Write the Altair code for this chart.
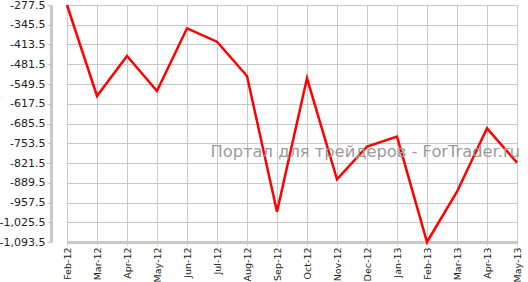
import altair as alt
import pandas as pd

months = ["Feb-12", "Mar-12", "Apr-12", "May-12", "Jun-12", "Jul-12", "Aug-12", "Sep-12",
          "Oct-12", "Nov-12", "Dec-12", "Jan-13", "Feb-13", "Mar-13", "Apr-13", "May-13"]
values = [-277.5, -590.8, -453.1, -573.6, -357.8, -403.8, -522.0, -989.1,
          -529.9, -877.7, -765.3, -730.9, -1093.5, -920.2, -702.1, -820.4]
y_ticks = [-277.5, -345.5, -413.5, -481.5, -549.5, -617.5, -685.5, -753.5,
           -821.5, -889.5, -957.5, -1025.5, -1093.5]
watermark = "Портал для трейдеров - ForTrader.ru"

df = pd.DataFrame({"month": months, "value": values})

W, H = 477, 237
grid = "#c8c8c8"

base = alt.Chart(df)

line = base.mark_line(color="#ff0000", strokeWidth=2.5, clip=False).encode(
    x=alt.X("month:O", sort=months,
            scale=alt.Scale(type="point", range=[16, 466], padding=0),
            axis=alt.Axis(title=None, labelAngle=270, labelFont="DejaVu Sans",
                          labelFontSize=9.5, labelColor="#222222",
                          domainColor=grid, domainWidth=3,
                          gridColor=grid, gridWidth=1, grid=True,
                          tickColor=grid, tickSize=3, labelPadding=2)),
    y=alt.Y("value:Q", scale=alt.Scale(domain=[-1093.5, -277.5], nice=False, zero=False),
            axis=alt.Axis(title=None, values=y_ticks,
                          labelExpr="replace(format(datum.value, ',.1f'), '\u2212', '-')",
                          labelFont="DejaVu Sans", labelFontSize=11, labelColor="#222222",
                          domainColor=grid, domainWidth=3,
                          gridColor=grid, gridWidth=1,
                          tickColor=grid, tickSize=4, labelPadding=2)),
)

wm = alt.Chart(pd.DataFrame({"t": [watermark]})).mark_text(
    font="DejaVu Sans", fontSize=16.3, color="#a09a9a", align="right", baseline="alphabetic"
).encode(text="t:N", x=alt.value(469), y=alt.value(152))

chart = alt.layer(line, wm).properties(
    width=W, height=H,
    autosize=alt.AutoSizeParams(type="none"),
    padding={"left": 51, "top": 5, "right": 0, "bottom": 40},
    background="white",
).configure_view(stroke=None)

chart.save("out.html", embed_options={"renderer": "svg", "actions": False})
